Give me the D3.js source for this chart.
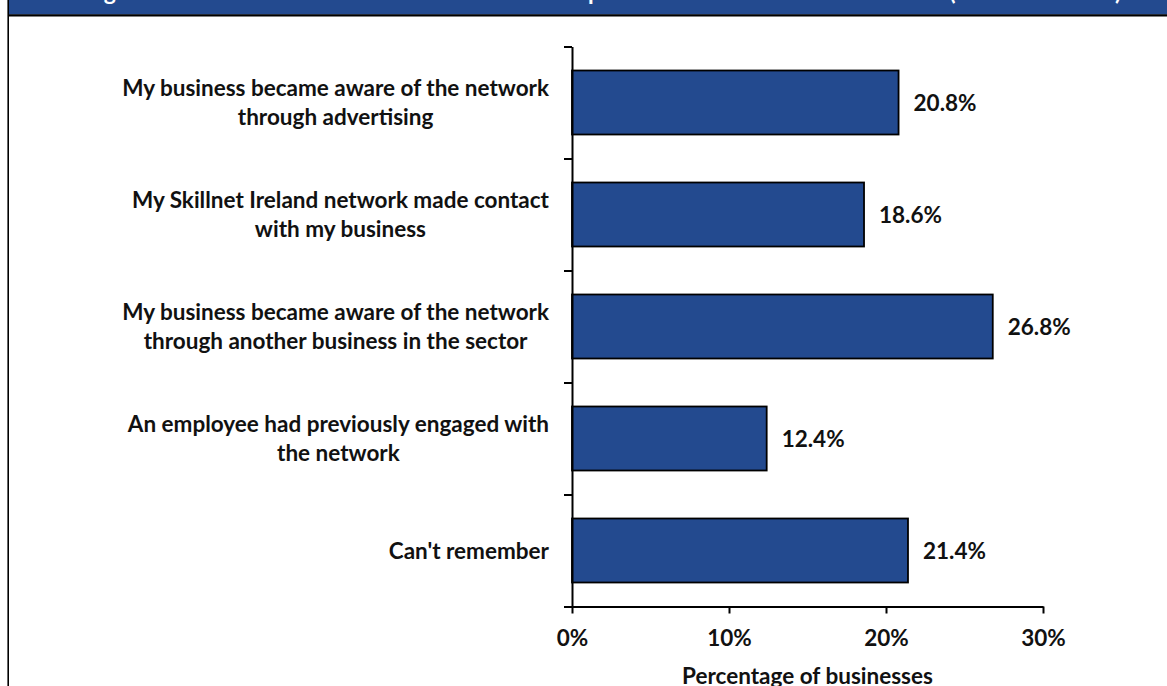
<!DOCTYPE html>
<html>
<head>
<meta charset="utf-8">
<script src="https://cdn.jsdelivr.net/npm/d3@7"></script>
<style>
  html, body { margin: 0; padding: 0; background: #ffffff; overflow: hidden; }
  svg { display: block; }
  text { font-family: Lato, "Open Sans", "Noto Sans", sans-serif; font-weight: 700; }
</style>
</head>
<body>
<svg id="chart" width="1167" height="686"></svg>
<script>
// Survey responses: how member businesses first came to the network
const categories = [
  "My business became aware of the network|through advertising",
  "My Skillnet Ireland network made contact|with my business",
  "My business became aware of the network|through another business in the sector",
  "An employee had previously engaged with|the network",
  "Can't remember"
];
const values = [20.8, 18.6, 26.8, 12.4, 21.4];
const xTicks = [0, 10, 20, 30];
const xTitle = "Percentage of businesses";
const title = "Figure 4.2: How member businesses first became part of the Skillnet Ireland network (% of businesses)";

const W = 1167, H = 686;
const BLUE = "#234a8f";
const INK = "#111111";
const FS = 22.5;          // label font size
const LINE = 28.3;        // line spacing for wrapped category labels

const svg = d3.select("#chart");

// Frame: blue header band, rule under it, and left border
svg.append("rect").attr("x", 8).attr("y", 0).attr("width", W - 8).attr("height", 14.5).attr("fill", BLUE);
svg.append("line").attr("x1", 8).attr("x2", W).attr("y1", 15.3).attr("y2", 15.3)
  .attr("stroke", "#000").attr("stroke-width", 2.2);
svg.append("line").attr("x1", 8.2).attr("x2", 8.2).attr("y1", 0).attr("y2", H)
  .attr("stroke", "#000").attr("stroke-width", 1.6);

// Header title (sits at the very top of the band)
const titleText = svg.append("text")
  .attr("x", 85).attr("y", 0.2)
  .attr("fill", "#ffffff")
  .style("font-size", "20px")
  .text(title);
const tLen = titleText.node().getComputedTextLength();
titleText.style("font-size", (20 * 1037 / tLen) + "px");

// Scales
const plotTop = 46.5, plotBottom = 606.5;
const x = d3.scaleLinear().domain([0, 30]).range([572, 1043]);
const y = d3.scaleBand().domain(categories).range([plotTop, plotBottom])
  .paddingInner(0.4286).paddingOuter(0.2143);
const yEdges = d3.scaleLinear().domain([0, categories.length]).range([plotTop, plotBottom]);

// Bars
svg.append("g").selectAll("rect")
  .data(values)
  .join("rect")
  .attr("x", x(0))
  .attr("y", (d, i) => y(categories[i]))
  .attr("width", d => x(d) - x(0))
  .attr("height", y.bandwidth())
  .attr("fill", BLUE)
  .attr("stroke", "#000")
  .attr("stroke-width", 1.8);

// Value labels
svg.append("g").selectAll("text")
  .data(values)
  .join("text")
  .attr("x", d => x(d) + 15)
  .attr("y", (d, i) => y(categories[i]) + y.bandwidth() / 2 + 0.36 * FS)
  .attr("fill", INK)
  .style("font-size", FS + "px")
  .text(d => d.toFixed(1) + "%");

// Y axis: line with ticks at category boundaries
const yAxis = svg.append("g")
  .attr("transform", `translate(${x(0)},0)`)
  .call(d3.axisLeft(yEdges).tickValues(d3.range(categories.length + 1))
    .tickFormat("").tickSize(8).tickSizeOuter(0));
yAxis.selectAll("path, line").attr("stroke", "#000").attr("stroke-width", 2);

// X axis
const xAxis = svg.append("g")
  .attr("transform", `translate(0,${plotBottom})`)
  .call(d3.axisBottom(x).tickValues(xTicks).tickFormat(d => d + "%")
    .tickSize(7).tickSizeOuter(0));
xAxis.selectAll("path, line").attr("stroke", "#000").attr("stroke-width", 2);
xAxis.attr("font-size", null).attr("font-family", null);
xAxis.selectAll("text")
  .attr("y", 646 - plotBottom).attr("dy", null)
  .attr("fill", INK)
  .style("font-size", FS + "px");

// X axis title
svg.append("text")
  .attr("x", (x(0) + x(30)) / 2).attr("y", 684)
  .attr("text-anchor", "middle")
  .attr("fill", INK)
  .style("font-size", FS + "px")
  .text(xTitle);

// Category labels: wrapped lines centred in a block right-aligned to the axis
const labelRight = 549;
const labels = svg.append("g");
categories.forEach(cat => {
  const lines = cat.split("|");
  const g = labels.append("g");
  const texts = lines.map((ln, j) => g.append("text")
    .attr("y", y(cat) + y.bandwidth() / 2 + (j - (lines.length - 1) / 2) * LINE + 0.36 * FS)
    .attr("text-anchor", "middle")
    .attr("fill", INK)
    .style("font-size", FS + "px")
    .text(ln));
  const wMax = d3.max(texts, t => t.node().getComputedTextLength());
  texts.forEach(t => t.attr("x", labelRight - wMax / 2));
});
</script>
</body>
</html>
